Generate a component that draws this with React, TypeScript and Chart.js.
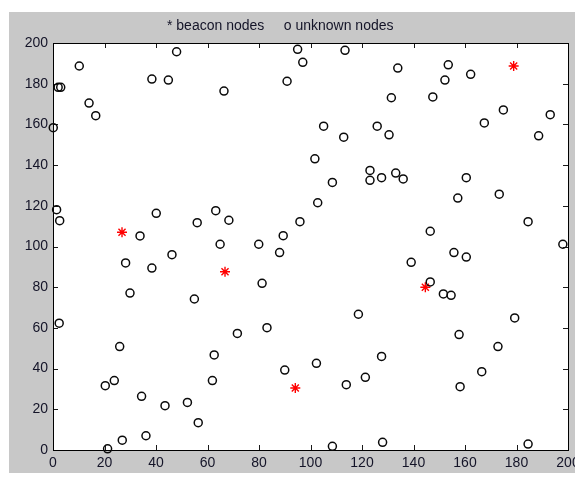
import React, { useEffect, useRef } from "react";
import { Chart, registerables } from "chart.js";

Chart.register(...registerables);

const titleText = "* beacon nodes     o unknown nodes";
const tickValues = [0, 20, 40, 60, 80, 100, 120, 140, 160, 180, 200];

const beaconX = [26.8, 66.8, 94.1, 144.6, 178.9];
const beaconY = [107.0, 87.6, 30.5, 80.0, 188.7];

const unknownX = [
  10.2, 2.0, 3.0, 0.1, 14.0, 16.6, 38.4, 44.8, 48.0,
  95.0, 113.4, 97.0, 90.9, 66.4, 133.9, 131.4, 105.1, 112.9, 125.9, 130.5, 101.7, 108.5, 123.1, 123.1, 127.6, 133.1, 136.0,
  153.5, 152.2, 162.2, 147.5, 174.9, 167.5, 193.1, 188.6, 160.5,
  1.4, 2.6, 40.1, 33.8, 63.2, 56.0, 64.9, 28.2, 38.4, 46.2, 29.9, 54.9, 2.4,
  68.3, 79.9, 89.4, 88.0, 95.9, 102.8, 81.2, 118.6,
  157.2, 173.3, 184.5, 198.0, 146.5, 155.7, 160.5, 139.1, 146.5, 151.6, 154.6, 179.3,
  25.9, 20.3, 23.8, 34.4, 43.5, 52.2, 56.4, 61.9, 62.6, 21.2, 26.9, 36.1,
  71.6, 83.1, 90.0, 102.3, 113.9, 121.3, 127.6, 108.5, 128.0,
  157.7, 172.8, 166.5, 158.1, 184.5,
];
const unknownY = [
  188.7, 178.2, 178.2, 158.4, 170.5, 164.3, 182.3, 181.8, 195.7,
  196.9, 196.4, 190.5, 181.2, 176.4, 187.7, 173.1, 159.1, 153.7, 159.1, 154.9, 143.1, 131.5, 137.4, 132.5, 133.8, 136.1, 133.2,
  189.3, 181.8, 184.6, 173.5, 167.1, 160.7, 164.8, 154.4, 133.8,
  118.1, 112.7, 116.3, 105.2, 117.6, 111.7, 101.1, 91.9, 89.4, 96.0, 77.1, 74.2, 62.3,
  112.9, 101.1, 105.3, 97.0, 112.2, 121.5, 81.9, 66.7,
  123.8, 125.7, 112.2, 101.1, 107.5, 97.0, 94.8, 92.2, 82.6, 76.7, 76.0, 64.9,
  50.8, 31.6, 34.1, 26.4, 21.8, 23.4, 13.4, 34.1, 46.7, 0.6, 4.8, 7.0,
  57.3, 60.1, 39.3, 42.6, 32.1, 35.7, 46.0, 1.8, 3.8,
  56.7, 50.8, 38.5, 31.1, 2.9,
];

const framePlugin = {
  id: "matlabFrame",
  beforeDraw(chart: any) {
    const { ctx, chartArea } = chart;
    const { left, top, right, bottom } = chartArea;
    ctx.save();
    ctx.fillStyle = "#ffffff";
    ctx.fillRect(0, 0, chart.width, chart.height);
    ctx.fillStyle = "#c8c8c8";
    ctx.fillRect(9, 12, chart.width - 9, 473 - 12);
    ctx.fillStyle = "#ffffff";
    ctx.fillRect(left, top, right - left, bottom - top);

    const xs = chart.scales.x;
    const ys = chart.scales.y;
    ctx.strokeStyle = "#1a1a1a";
    ctx.lineWidth = 1;
    const tl = 5;
    ctx.beginPath();
    tickValues.forEach((v) => {
      const px = Math.round(xs.getPixelForValue(v)) + 0.5;
      ctx.moveTo(px, bottom);
      ctx.lineTo(px, bottom - tl);
      ctx.moveTo(px, top);
      ctx.lineTo(px, top + tl);
      const py = Math.round(ys.getPixelForValue(v)) + 0.5;
      ctx.moveTo(left, py);
      ctx.lineTo(left + tl, py);
      ctx.moveTo(right, py);
      ctx.lineTo(right - tl, py);
    });
    ctx.stroke();

    ctx.strokeStyle = "#000000";
    ctx.strokeRect(Math.round(left) + 0.5, Math.round(top) + 0.5, Math.round(right - left), Math.round(bottom - top));

    ctx.fillStyle = "#141428";
    ctx.font = "14px 'Liberation Sans', Arial, sans-serif";
    ctx.textAlign = "center";
    ctx.textBaseline = "top";
    tickValues.forEach((v) => {
      ctx.fillText(String(v), xs.getPixelForValue(v), bottom + 6);
    });
    ctx.textAlign = "right";
    ctx.textBaseline = "middle";
    tickValues.forEach((v) => {
      ctx.fillText(String(v), left - 5, ys.getPixelForValue(v));
    });

    ctx.textAlign = "left";
    ctx.textBaseline = "alphabetic";
    ctx.fillStyle = "#141428";
    ctx.fillText(titleText, 167, 30);
    ctx.restore();
  },
};

export default function App() {
  const ref = useRef<HTMLCanvasElement | null>(null);
  useEffect(() => {
    if (!ref.current) return;
    const chart = new Chart(ref.current, {
      type: "scatter",
      data: {
        datasets: [
          {
            label: "unknown nodes",
            data: unknownX.map((x, i) => ({ x, y: unknownY[i] })),
            pointStyle: "circle",
            pointRadius: 4,
            pointHoverRadius: 4,
            borderColor: "#0a0a0a",
            backgroundColor: "rgba(0,0,0,0)",
            pointBorderWidth: 1.5,
            clip: false,
            order: 1,
          },
          {
            label: "beacon nodes",
            data: beaconX.map((x, i) => ({ x, y: beaconY[i] })),
            pointStyle: "star",
            pointRadius: 5,
            pointHoverRadius: 5,
            borderColor: "#ff0000",
            backgroundColor: "#ff0000",
            pointBorderWidth: 1.4,
            clip: false,
            order: 2,
          },
        ],
      },
      options: {
        responsive: false,
        animation: false,
        events: [],
        layout: { padding: { left: 53, top: 43, right: 7, bottom: 28 } },
        scales: {
          x: { type: "linear", min: 0, max: 200, display: false },
          y: { type: "linear", min: 0, max: 200, display: false },
        },
        plugins: {
          legend: { display: false },
          tooltip: { enabled: false },
          title: { display: false },
        },
      },
      plugins: [framePlugin],
    });
    return () => chart.destroy();
  }, []);
  return (
    <div style={{ position: "fixed", left: 0, top: 0, width: 575, height: 478 }}>
      <canvas ref={ref} width={575} height={478} style={{ display: "block", width: 575, height: 478 }} />
    </div>
  );
}
